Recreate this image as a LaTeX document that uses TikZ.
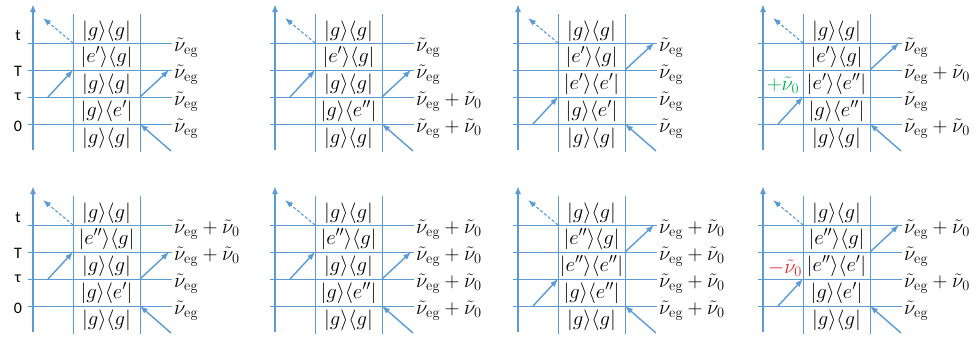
\documentclass[tikz,border=0pt]{standalone}
\usepackage{fontspec}
\newfontfamily\axisfont{Carlito}
\usetikzlibrary{arrows.meta}
\definecolor{lineblue}{RGB}{91,155,213}
\definecolor{plusgreen}{RGB}{0,176,80}
\definecolor{minusred}{RGB}{230,40,40}
\tikzset{
  gridline/.style={draw=lineblue, line width=1pt},
  axisline/.style={draw=lineblue, line width=1.6pt, -{Latex[length=8pt,width=6pt]}},
  pulse/.style={draw=lineblue, line width=1.4pt, -{Latex[length=8pt,width=6pt]}},
  signal/.style={draw=lineblue, line width=1.1pt, dash pattern=on 3pt off 2pt, -{Latex[length=8pt,width=6pt]}},
  rowlab/.style={font=\fontsize{20.74}{23}\selectfont, inner sep=0pt},
  freqlab/.style={font=\fontsize{20.74}{23}\selectfont, inner sep=0pt, anchor=west},
  timelab/.style={font=\axisfont\fontsize{16}{18}\selectfont, inner sep=0pt},
}
\newcommand\panel[8]{%
\begin{scope}[shift={(#2,#3)}]
  \coordinate (#1-a0) at (0,150);
  \coordinate (#1-a1) at (0,4);
  \coordinate (#1-Lt) at (40,14);  \coordinate (#1-Lb) at (40,152);
  \coordinate (#1-Rt) at (107,14); \coordinate (#1-Rb) at (107,152);
  \coordinate (#1-s1) at (15,97);  \coordinate (#1-s2) at (15,124);
  \coordinate (#1-e1) at (136,43); \coordinate (#1-e2) at (136,70);
  \coordinate (#1-pb) at (138,151);\coordinate (#1-d) at (10,18);
  \foreach \k/\yy in {1/43,2/70,3/97,4/124}{
    \coordinate (#1-h\k-a) at (-5,\yy);
    \coordinate (#1-h\k-b) at (139,\yy);
    \coordinate (#1-L\k) at (40,\yy);
    \coordinate (#1-R\k) at (107,\yy);
    \draw[gridline] (#1-h\k-a) -- (#1-h\k-b);
  }
  \draw[gridline] (#1-Lt) -- (#1-Lb);
  \draw[gridline] (#1-Rt) -- (#1-Rb);
  \draw[axisline] (#1-a0) -- (#1-a1);
  \node[rowlab] (#1-r1) at (73.5,31)  {$|#4|$};
  \node[rowlab] (#1-r2) at (73.5,57)  {$|#5|$};
  \node[rowlab] (#1-r3) at (73.5,84)  {$|#6|$};
  \node[rowlab] (#1-r4) at (73.5,111) {$|#7|$};
  \node[rowlab] (#1-r5) at (73.5,138) {$|#8|$};
\end{scope}}
\newcommand\freqs[5]{%
  \node[freqlab] (#1-f1) at ([shift={(2,5)}]#1-h1-b) {$#2$};
  \node[freqlab] (#1-f2) at ([shift={(2,5)}]#1-h2-b) {$#3$};
  \node[freqlab] (#1-f3) at ([shift={(2,5)}]#1-h3-b) {$#4$};
  \node[freqlab] (#1-f4) at ([shift={(2,5)}]#1-h4-b) {$#5$};}
\newcommand\commonarrows[1]{%
  \draw[pulse] (#1-pb) -- (#1-R4);
  \draw[signal] (#1-L1) -- (#1-d);}
\newcommand\arrowsA[1]{%
  \draw[pulse] (#1-s1) -- (#1-L2);
  \draw[pulse] (#1-R3) -- (#1-e2);
  \commonarrows{#1}}
\newcommand\arrowsB[1]{%
  \draw[pulse] (#1-s2) -- (#1-L3);
  \draw[pulse] (#1-R2) -- (#1-e1);
  \commonarrows{#1}}
\newcommand\timelabels[2]{%
\begin{scope}[shift={(0,#2)}]
  \node[timelab] (#1-t) at (18,35) {t};
  \node[timelab] (#1-T) at (18,71) {T};
  \node[timelab] (#1-tau) at (18,97) {τ};
  \node[timelab] (#1-z) at (18,126) {0};
\end{scope}}
\newcommand\kgg{g\rangle\langle g}
\newcommand\freqeg{\tilde{\nu}_{\mathrm{eg}}}
\newcommand\freqpl{\tilde{\nu}_{\mathrm{eg}}+\tilde{\nu}_0}
\begin{document}
\begin{tikzpicture}[x=1pt,y=-1pt]
\fill[white] (0,0) rectangle (976,338);
\useasboundingbox (0,0) rectangle (976,338);
% top row
\panel{p1}{33}{0}{\kgg}{e'\rangle\langle g}{\kgg}{g\rangle\langle e'}{\kgg}
\freqs{p1}{\freqeg}{\freqeg}{\freqeg}{\freqeg}
\arrowsA{p1}
\timelabels{p1}{0}
\panel{p2}{275}{0}{\kgg}{e'\rangle\langle g}{\kgg}{g\rangle\langle e''}{\kgg}
\freqs{p2}{\freqeg}{\freqeg}{\freqpl}{\freqpl}
\arrowsA{p2}
\panel{p3}{518}{0}{\kgg}{e'\rangle\langle g}{e'\rangle\langle e'}{g\rangle\langle e'}{\kgg}
\freqs{p3}{\freqeg}{\freqeg}{\freqeg}{\freqeg}
\arrowsB{p3}
\panel{p4}{763}{0}{\kgg}{e'\rangle\langle g}{e'\rangle\langle e''}{g\rangle\langle e''}{\kgg}
\freqs{p4}{\freqeg}{\freqpl}{\freqeg}{\freqpl}
\arrowsB{p4}
\node[rowlab, text=plusgreen] (p4-extra) at (783,85) {$+\tilde{\nu}_0$};
% bottom row
\panel{q1}{33}{182}{\kgg}{e''\rangle\langle g}{\kgg}{g\rangle\langle e'}{\kgg}
\freqs{q1}{\freqpl}{\freqpl}{\freqeg}{\freqeg}
\arrowsA{q1}
\timelabels{q1}{182}
\panel{q2}{275}{182}{\kgg}{e''\rangle\langle g}{\kgg}{g\rangle\langle e''}{\kgg}
\freqs{q2}{\freqpl}{\freqpl}{\freqpl}{\freqpl}
\arrowsA{q2}
\panel{q3}{518}{182}{\kgg}{e''\rangle\langle g}{e''\rangle\langle e''}{g\rangle\langle e''}{\kgg}
\freqs{q3}{\freqpl}{\freqpl}{\freqpl}{\freqpl}
\arrowsB{q3}
\panel{q4}{763}{182}{\kgg}{e''\rangle\langle g}{e''\rangle\langle e'}{g\rangle\langle e'}{\kgg}
\freqs{q4}{\freqpl}{\freqeg}{\freqpl}{\freqeg}
\arrowsB{q4}
\node[rowlab, text=minusred] (q4-extra) at (785,268) {$-\tilde{\nu}_0$};
\end{tikzpicture}
\end{document}
